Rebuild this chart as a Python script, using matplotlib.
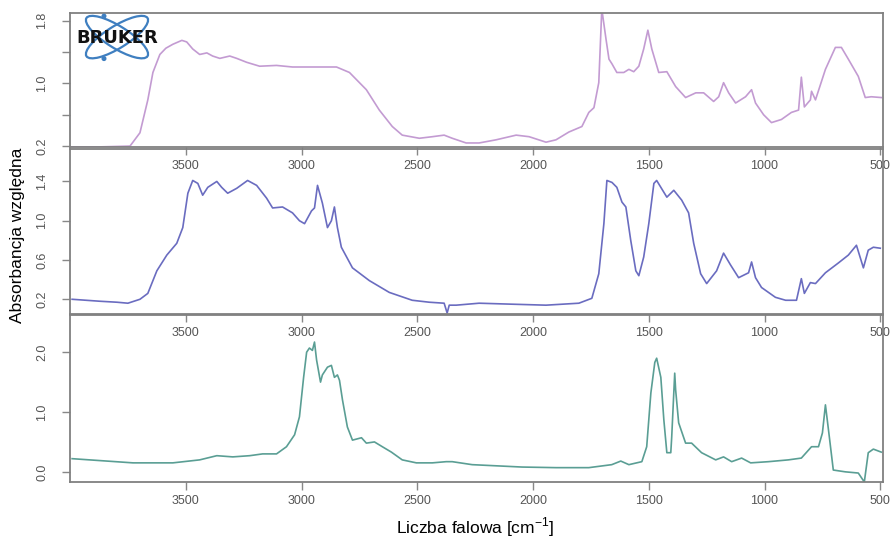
import matplotlib
matplotlib.use("Agg")
import matplotlib.pyplot as plt
from matplotlib.patches import Ellipse, Circle

plt.rcParams['font.family'] = ['Liberation Sans', 'DejaVu Sans']
plt.rcParams['mathtext.fontset'] = 'custom'
plt.rcParams['mathtext.rm'] = 'Liberation Sans'

# Spectrum 1 (top)
wn1 = [4000, 3871, 3741, 3698, 3664, 3642, 3612, 3586, 3556, 3517, 3496, 3470, 3440,
       3409, 3384, 3353, 3310, 3280, 3237, 3181, 3108, 3039, 2953, 2849, 2793, 2720,
       2664, 2608, 2565, 2491, 2435, 2384, 2349, 2289, 2233, 2160, 2073, 2017, 1944,
       1901, 1845, 1789, 1759, 1737, 1716, 1703, 1685, 1672, 1659, 1638, 1608, 1586,
       1565, 1543, 1522, 1504, 1487, 1457, 1422, 1384, 1341, 1297, 1263, 1220, 1198,
       1177, 1155, 1125, 1082, 1056, 1039, 1004, 970, 927, 884, 853, 841, 828, 802,
       797, 780, 737, 694, 668, 638, 595, 565, 539, 496]
ab1 = [0.19, 0.19, 0.20, 0.37, 0.79, 1.14, 1.37, 1.45, 1.50, 1.55, 1.53, 1.44, 1.37,
       1.39, 1.35, 1.32, 1.35, 1.32, 1.27, 1.22, 1.23, 1.21, 1.21, 1.21, 1.14, 0.92,
       0.66, 0.45, 0.34, 0.30, 0.32, 0.34, 0.30, 0.24, 0.24, 0.28, 0.34, 0.32, 0.25,
       0.28, 0.38, 0.45, 0.63, 0.69, 1.01, 1.95, 1.57, 1.31, 1.25, 1.14, 1.14, 1.18,
       1.15, 1.22, 1.44, 1.68, 1.44, 1.14, 1.15, 0.96, 0.82, 0.88, 0.88, 0.77, 0.83,
       1.01, 0.88, 0.75, 0.83, 0.92, 0.75, 0.60, 0.50, 0.54, 0.63, 0.66, 1.08, 0.70,
       0.79, 0.90, 0.79, 1.18, 1.46, 1.46, 1.31, 1.09, 0.82, 0.83, 0.82]

# Spectrum 2 (middle)
wn2 = [3991, 3871, 3797, 3750, 3698, 3664, 3625, 3582, 3539, 3513, 3491, 3470, 3448,
       3427, 3405, 3366, 3345, 3319, 3280, 3233, 3194, 3151, 3125, 3082, 3039, 3009,
       2987, 2957, 2944, 2931, 2910, 2888, 2871, 2858, 2845, 2828, 2780, 2707, 2621,
       2522, 2448, 2384, 2371, 2362, 2332, 2233, 2091, 1944, 1802, 1746, 1716, 1694,
       1681, 1659, 1638, 1616, 1599, 1578, 1556, 1543, 1522, 1500, 1478, 1466, 1435,
       1422, 1392, 1358, 1328, 1306, 1276, 1250, 1207, 1177, 1147, 1112, 1069, 1056,
       1039, 1013, 953, 909, 862, 841, 828, 802, 780, 737, 681, 638, 603, 573, 552,
       530, 500]
ab2 = [0.20, 0.18, 0.17, 0.16, 0.20, 0.26, 0.49, 0.65, 0.77, 0.93, 1.28, 1.41, 1.38,
       1.26, 1.34, 1.40, 1.34, 1.28, 1.33, 1.41, 1.36, 1.23, 1.13, 1.14, 1.08, 1.00,
       0.97, 1.10, 1.13, 1.36, 1.18, 0.93, 1.00, 1.14, 0.93, 0.73, 0.52, 0.39, 0.27,
       0.19, 0.17, 0.16, 0.06, 0.14, 0.14, 0.16, 0.15, 0.14, 0.16, 0.21, 0.46, 0.97,
       1.41, 1.39, 1.34, 1.19, 1.14, 0.80, 0.49, 0.44, 0.63, 0.97, 1.38, 1.41, 1.29,
       1.24, 1.31, 1.21, 1.08, 0.77, 0.46, 0.36, 0.49, 0.67, 0.55, 0.42, 0.47, 0.58,
       0.42, 0.32, 0.22, 0.19, 0.19, 0.41, 0.26, 0.37, 0.36, 0.47, 0.57, 0.65, 0.75,
       0.52, 0.70, 0.73, 0.72]

# Spectrum 3 (bottom)
wn3 = [3991, 3728, 3556, 3440, 3366, 3297, 3224, 3168, 3108, 3065, 3030, 3009, 2991,
       2978, 2966, 2953, 2944, 2935, 2918, 2910, 2888, 2871, 2858, 2845, 2836, 2823,
       2802, 2780, 2741, 2720, 2685, 2651, 2612, 2565, 2504, 2435, 2375, 2349, 2263,
       2047, 1901, 1759, 1660, 1621, 1586, 1530, 1509, 1491, 1474, 1466, 1448, 1435,
       1422, 1405, 1401, 1388, 1384, 1371, 1341, 1315, 1272, 1211, 1177, 1142, 1099,
       1060, 983, 897, 841, 797, 767, 750, 737, 720, 703, 651, 595, 569, 552, 530, 496]
ab3 = [0.22, 0.15, 0.15, 0.20, 0.27, 0.25, 0.27, 0.30, 0.30, 0.42, 0.62, 0.92, 1.58,
       2.00, 2.07, 2.03, 2.17, 1.87, 1.50, 1.62, 1.75, 1.78, 1.58, 1.62, 1.53, 1.20,
       0.75, 0.53, 0.57, 0.48, 0.50, 0.42, 0.33, 0.20, 0.15, 0.15, 0.17, 0.17, 0.12,
       0.08, 0.07, 0.07, 0.12, 0.18, 0.12, 0.17, 0.42, 1.32, 1.83, 1.90, 1.58, 0.87,
       0.32, 0.32, 0.58, 1.65, 1.37, 0.82, 0.48, 0.48, 0.32, 0.20, 0.25, 0.17, 0.23,
       0.15, 0.17, 0.20, 0.23, 0.42, 0.42, 0.65, 1.12, 0.58, 0.03, 0.00, -0.02, -0.17,
       0.32, 0.38, 0.33]

x_ticks = [3500, 3000, 2500, 2000, 1500, 1000, 500]

panels = [
    (wn1, ab1, '#c39bd2', (0.19, 1.90), [0.2, 0.6, 1.0, 1.4, 1.8], ['0.2', '', '1.0', '', '1.8']),
    (wn2, ab2, '#6a6cc0', (0.05, 1.73), [0.2, 0.6, 1.0, 1.4], ['0.2', '0.6', '1.0', '1.4']),
    (wn3, ab3, '#5a9e94', (-0.17, 2.62), [0.0, 1.0, 2.0], ['0.0', '1.0', '2.0']),
]
boxes = [
    [0.0786, 0.728, 0.9125, 0.248],
    [0.0786, 0.4185, 0.9125, 0.3055],
    [0.0786, 0.1074, 0.9125, 0.309],
]

fig = plt.figure(figsize=(8.91, 5.40), dpi=100)

for (wn, ab, col, ylim, yt, ytl), box in zip(panels, boxes):
    ax = fig.add_axes(box)
    ax.set_facecolor('none')
    ax.plot(wn, ab, color=col, lw=1.2)
    ax.set_xlim(4000, 488)
    ax.set_ylim(*ylim)
    ax.set_xticks(x_ticks)
    ax.set_xticklabels([str(t) for t in x_ticks])
    ax.set_yticks(yt)
    ax.set_yticklabels(ytl, rotation=90, va='center')
    ax.tick_params(axis='x', length=5.5, width=1.0, color='#888888',
                   labelsize=9, labelcolor='#555555', pad=4)
    ax.tick_params(axis='y', length=5.5, width=1.0, color='#888888',
                   labelsize=9, labelcolor='#555555', pad=10)
    for s in ax.spines.values():
        s.set_color('#808080')
        s.set_linewidth(1.3)
    ax.set_zorder(1)

# Bruker logo in the top-left corner
logo = fig.add_axes([0.0808, 0.885, 0.101, 0.0926])
logo.set_xlim(0, 90)
logo.set_ylim(0, 50)
logo.axis('off')
logo.set_zorder(2)
for ang in (32, -32):
    logo.add_patch(Ellipse((45, 25), 72, 22, angle=ang, fill=False,
                           edgecolor='#3f7fc0', lw=1.6))
logo.add_patch(Circle((32, 46), 1.8, color='#3f7fc0'))
logo.add_patch(Circle((32, 3.5), 1.8, color='#3f7fc0'))
logo.text(45, 24, 'BRUKER', ha='center', va='center', fontsize=13,
          fontweight='heavy', family='DejaVu Sans', color='#111111')

fig.text(18 / 891, 1 - 235 / 540, 'Absorbancja względna', rotation=90,
         ha='center', va='center', fontsize=12.5)
fig.text(475 / 891, 1 - 527 / 540, 'Liczba falowa [cm$^{-1}$]',
         ha='center', va='center', fontsize=12.5)

fig.savefig('out.png', dpi=100)
